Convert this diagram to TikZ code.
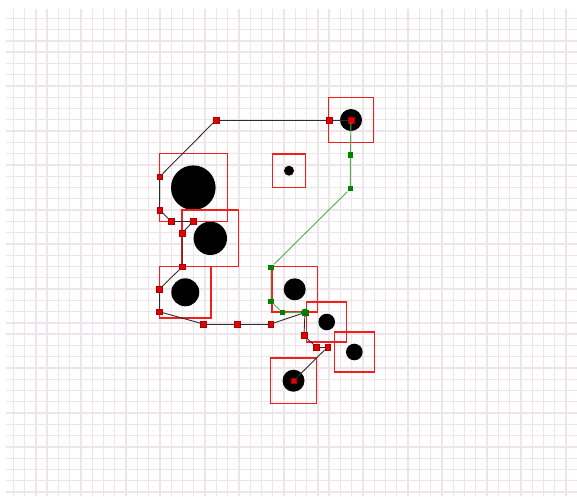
\documentclass[tikz,border=0pt]{standalone}
\usepackage{tikz}
\usetikzlibrary{fit}
\definecolor{gridpink}{RGB}{237,229,233}
\definecolor{boxred}{RGB}{245,30,30}
\definecolor{markred}{RGB}{228,0,0}
\definecolor{routegray}{RGB}{45,45,45}
\definecolor{routegreen}{RGB}{80,170,80}
\definecolor{markgreen}{RGB}{0,130,0}

\begin{document}
\begin{tikzpicture}[
  x=1pt, y=-1pt,
  gridrule/.style={gridpink, line width=1.3pt},
  blob/.style={circle, fill=black, inner sep=0pt},
  box/.style={draw=boxred, line width=1.2pt, inner sep=11.5pt},
  rmark/.style={rectangle, fill=markred, draw=markred!75!black, line width=0.3pt,
                inner sep=0pt, minimum size=5.5pt},
  gmark/.style={rectangle, fill=markgreen, inner sep=0pt, minimum size=5.5pt},
  route/.style={routegray, line width=0.9pt},
  groute/.style={routegreen, line width=0.9pt},
]
  \useasboundingbox (0,0) rectangle (577,496);

  % -- background grid --
  \foreach \k in {0,...,50}
    \draw[gridrule] ({13.3+11.28*\k},9) -- ({13.3+11.28*\k},496);
  \foreach \k in {0,...,42}
    \draw[gridrule] (6,{18.3+11.28*\k}) -- (577,{18.3+11.28*\k});

  % -- obstacles --
  \node[blob, minimum size=44.6pt] (c1) at (193.3,187.7) {};
  \node[blob, minimum size=33.4pt] (c2) at (210.3,238.3) {};
  \node[blob, minimum size=28pt]   (c3) at (185.3,292.3) {};
  \node[blob, minimum size=10pt]   (c4) at (289,170.7) {};
  \node[blob, minimum size=22pt]   (c5) at (351,120) {};
  \node[blob, minimum size=22pt]   (c6) at (294.7,289.3) {};
  \node[blob, minimum size=16.6pt] (c7) at (326.7,322) {};
  \node[blob, minimum size=16.6pt] (c8) at (354.3,352) {};
  \node[blob, minimum size=22pt]   (c9) at (293.5,380.7) {};

  \foreach \i in {1,...,9}
    \node[box, fit=(c\i)] (b\i) {};

  % -- black route --
  \node[rmark] (r0)  at (293.5,380.7) {};
  \node[rmark] (r1)  at (327.7,347) {};
  \node[rmark] (r2)  at (316,347) {};
  \node[rmark] (r3)  at (304,335.3) {};
  \node[rmark] (r4)  at (305,312.5) {};
  \node[rmark] (r5)  at (270.7,324) {};
  \node[rmark] (r6)  at (237.3,324) {};
  \node[rmark] (r7)  at (203.3,324) {};
  \node[rmark] (r8)  at (159.3,311.7) {};
  \node[rmark] (r9)  at (159.3,289.3) {};
  \node[rmark] (r10) at (182.3,266.7) {};
  \node[rmark] (r11) at (182,233.3) {};
  \node[rmark] (r12) at (193.3,221) {};
  \node[rmark] (r13) at (171,221) {};
  \node[rmark] (r14) at (159.5,210) {};
  \node[rmark] (r15) at (159.7,176.7) {};
  \node[rmark] (r16) at (216,120) {};
  \node[rmark] (r17) at (329,120) {};
  \node[rmark] (r18) at (351,120) {};

  \foreach \a/\b in {0/1,1/2,2/3,3/4,4/5,5/6,6/7,7/8,8/9,9/10,10/11,11/12,12/13,
                     13/14,14/15,15/16,16/17,17/18} {
    \draw[route] (r\a) -- (r\b);
  }

  % -- green route --
  \node[gmark] (g1) at (350.3,155) {};
  \node[gmark] (g2) at (350.3,188.7) {};
  \node[gmark] (g3) at (271,267.3) {};
  \node[gmark] (g4) at (271,301.7) {};
  \node[gmark] (g5) at (282.7,312.7) {};
  \node[circle, fill=markgreen, inner sep=0pt, minimum size=8pt] (g6) at (305,312.5) {};

  \draw[groute] (r18) -- (g1) -- (g2) -- (g3) -- (g4) -- (g5) -- (g6);
\end{tikzpicture}
\end{document}
